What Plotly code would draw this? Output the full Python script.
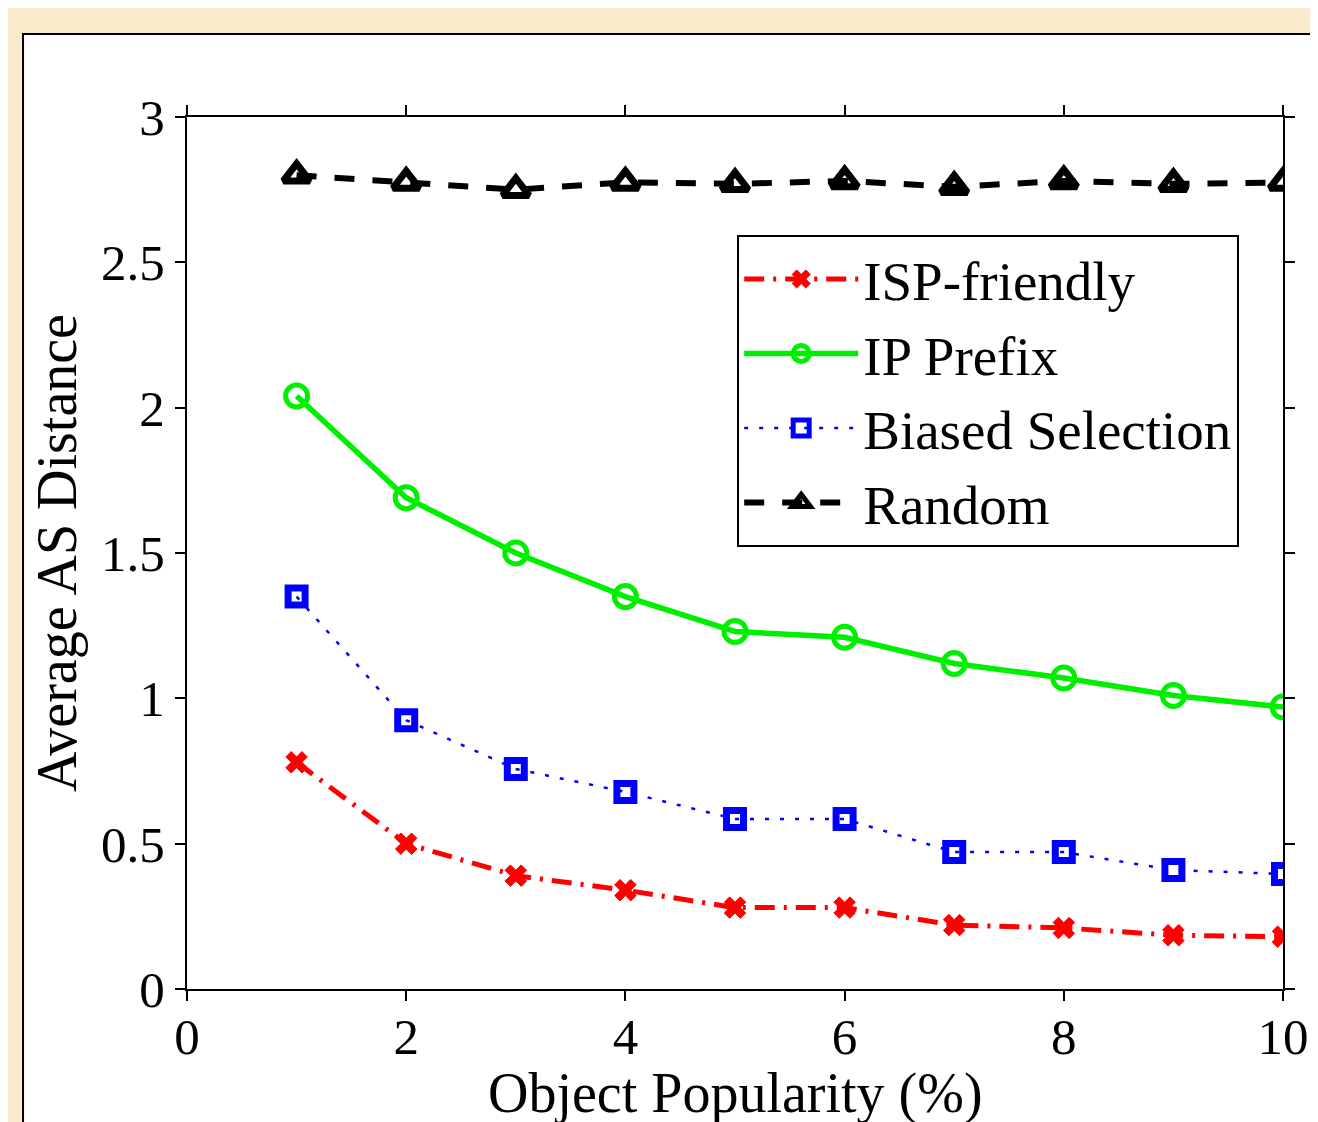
import plotly.graph_objects as go

x_vals = [1, 2, 3, 4, 5, 6, 7, 8, 9, 10]
isp_friendly = [0.78, 0.50, 0.39, 0.34, 0.28, 0.28, 0.22, 0.21, 0.185, 0.18]
ip_prefix = [2.04, 1.69, 1.50, 1.35, 1.23, 1.21, 1.12, 1.07, 1.01, 0.97]
biased = [1.35, 0.925, 0.757, 0.678, 0.585, 0.585, 0.471, 0.471, 0.409, 0.396]
random_sel = [2.80, 2.775, 2.75, 2.775, 2.77, 2.78, 2.76, 2.78, 2.77, 2.775]

x_ticks = [0, 2, 4, 6, 8, 10]
y_ticks = [0, 0.5, 1, 1.5, 2, 2.5, 3]
y_tick_text = ["0", "0.5", "1", "1.5", "2", "2.5", "3"]
x_title = "Object Popularity (%)"
y_title = "Average AS Distance"

FONT = "Liberation Serif"
FS = 51
TFS = 56
LFS = 55

fig = go.Figure()
fig.add_trace(go.Scatter(
    x=x_vals, y=isp_friendly, name="ISP-friendly", mode="lines+markers",
    line=dict(color="#ff0000", width=5, dash="20px,9px,3px,9px"),
    marker=dict(symbol="x", size=19, color="#ff0000", line=dict(width=1, color="#ff0000")),
))
fig.add_trace(go.Scatter(
    x=x_vals, y=ip_prefix, name="IP Prefix", mode="lines+markers",
    line=dict(color="#00ee00", width=5.5),
    marker=dict(symbol="circle-open", size=22, color="#00ee00", line=dict(width=5, color="#00ee00")),
))
fig.add_trace(go.Scatter(
    x=x_vals, y=biased, name="Biased Selection", mode="lines+markers",
    line=dict(color="#0000ff", width=2.5, dash="4px,11px"),
    marker=dict(symbol="square-open", size=17, color="#0000ff", line=dict(width=7, color="#0000ff")),
))
fig.add_trace(go.Scatter(
    x=x_vals, y=random_sel, name="Random", mode="lines+markers",
    line=dict(color="#000000", width=6, dash="20px,18px"),
    marker=dict(symbol="triangle-up-open", size=23, color="#000000", line=dict(width=7, color="#000000")),
))

axis_common = dict(
    showline=True, linecolor="black", linewidth=2, mirror="ticks",
    ticks="outside", ticklen=10, tickwidth=1.5, tickcolor="black",
    showgrid=False, zeroline=False,
    tickfont=dict(family=FONT, size=FS, color="black"),
)

fig.update_xaxes(
    range=[0, 10], tickvals=x_ticks, ticktext=[str(v) for v in x_ticks],
    ticklabelstandoff=-8,
    **axis_common,
)
fig.update_yaxes(
    range=[0, 3], tickvals=y_ticks, ticktext=y_tick_text,
    title=dict(text=y_title, font=dict(family=FONT, size=TFS, color="black"), standoff=6),
    **axis_common,
)

fig.add_annotation(
    text=x_title, xref="paper", yref="paper", x=0.5, y=-0.12,
    xanchor="center", yanchor="middle", showarrow=False,
    font=dict(family=FONT, size=TFS, color="black"),
)

fig.update_layout(
    width=1302, height=1114,
    margin=dict(l=179, r=27, t=109, b=133, autoexpand=False),
    paper_bgcolor="#f8eacb",
    plot_bgcolor="white",
    font=dict(family=FONT, size=FS, color="black"),
    showlegend=True,
    legend=dict(
        x=0.502, y=0.865, xanchor="left", yanchor="top",
        bgcolor="white", bordercolor="black", borderwidth=2,
        font=dict(family=FONT, size=LFS, color="black"),
        itemwidth=114, tracegroupgap=0,
    ),
    shapes=[dict(
        type="rect", xref="paper", yref="paper",
        x0=-0.1496, x1=1.2, y0=-0.5, y1=1.0952,
        fillcolor="white", line=dict(color="black", width=2), layer="below",
    )],
)

fig.write_html("out.html")
